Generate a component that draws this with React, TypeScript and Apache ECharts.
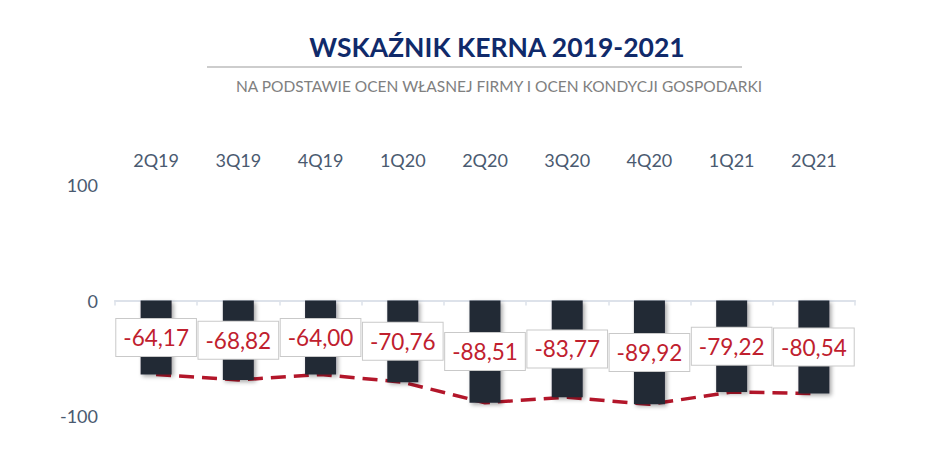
import React, { useEffect, useRef } from "react";
import * as echarts from "echarts";

const categories = ["2Q19", "3Q19", "4Q19", "1Q20", "2Q20", "3Q20", "4Q20", "1Q21", "2Q21"];
const values = [-64.17, -68.82, -64.0, -70.76, -88.51, -83.77, -89.92, -79.22, -80.54];
const yTicks = { min: -100, max: 100, interval: 100 };
const titleText = "WSKAŹNIK KERNA 2019-2021";
const subtitleText = "NA PODSTAWIE OCEN WŁASNEJ FIRMY I OCEN KONDYCJI GOSPODARKI";

const FONT = "Lato, 'Noto Sans', sans-serif";

export default function App() {
  const ref = useRef<HTMLDivElement>(null);
  useEffect(() => {
    if (!ref.current) return;
    const chart = echarts.init(ref.current, undefined, { renderer: "svg" });
    chart.setOption({
      animation: false,
      backgroundColor: "#ffffff",
      textStyle: { fontFamily: FONT },
      graphic: [
        {
          type: "text",
          x: 497,
          y: 47,
          style: {
            text: titleText,
            fill: "#102a6a",
            font: `bold 26.5px ${FONT}`,
            textAlign: "center",
            textVerticalAlign: "middle",
          },
        },
        {
          type: "line",
          shape: { x1: 207, y1: 67, x2: 742, y2: 67 },
          style: { stroke: "#cdcdcd", lineWidth: 2 },
        },
        {
          type: "text",
          x: 499,
          y: 86,
          style: {
            text: subtitleText,
            fill: "#808080",
            font: `15.5px ${FONT}`,
            textAlign: "center",
            textVerticalAlign: "middle",
          },
        },
      ],
      grid: { left: 115, right: 93, top: 185, bottom: 59 },
      xAxis: [
        {
          type: "category",
          data: categories,
          position: "top",
          axisLine: { show: false, onZero: false },
          axisTick: { show: false },
          axisLabel: { color: "#4a5a70", fontSize: 18, margin: 16, fontFamily: FONT },
        },
        {
          type: "category",
          data: categories,
          position: "bottom",
          axisLine: { show: true, onZero: true, lineStyle: { color: "#dde2ea", width: 2 } },
          axisTick: { show: true, length: 5, lineStyle: { color: "#dde2ea", width: 1.5 } },
          axisLabel: { show: false },
        },
      ],
      yAxis: {
        type: "value",
        min: yTicks.min,
        max: yTicks.max,
        interval: yTicks.interval,
        axisLine: { show: false },
        axisTick: { show: false },
        splitLine: { show: false },
        axisLabel: { color: "#4a5a70", fontSize: 18, margin: 17, fontFamily: FONT },
      },
      series: [
        {
          type: "line",
          data: values,
          xAxisIndex: 0,
          z: 1,
          symbol: "none",
          lineStyle: { color: "#b3162a", width: 3.5, type: [15, 8] },
        },
        {
          type: "bar",
          data: values,
          xAxisIndex: 0,
          z: 3,
          barWidth: 31,
          itemStyle: {
            color: "#242a36",
            shadowColor: "rgba(0,0,0,0.35)",
            shadowBlur: 4,
            shadowOffsetX: 2,
            shadowOffsetY: 2,
          },
          label: {
            show: true,
            position: "inside",
            formatter: (p: any) => Number(p.value).toFixed(2).replace(".", ","),
            color: "#c0202e",
            fontSize: 22.5,
            fontFamily: FONT,
            backgroundColor: "#ffffff",
            borderColor: "#c9c9c9",
            borderWidth: 1,
            padding: [7, 7, 7, 7],
          },
        },
      ],
    });
    return () => chart.dispose();
  }, []);
  return (
    <div
      ref={ref}
      style={{ position: "fixed", left: 0, top: 0, width: 948, height: 475 }}
    />
  );
}
